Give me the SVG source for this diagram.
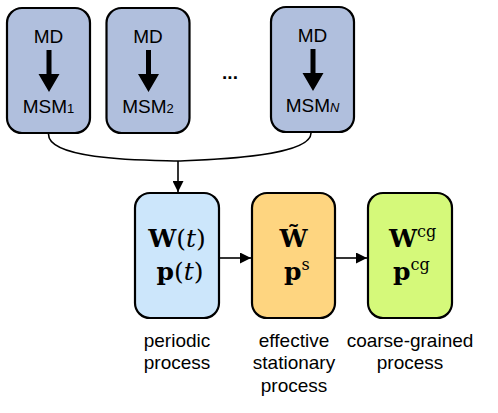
<svg xmlns="http://www.w3.org/2000/svg" width="498" height="413" viewBox="0 0 498 413">
<style>
.box{stroke:#000;stroke-width:2.2}
.top{fill:#b0bfdd}
.sans{font-family:"Liberation Sans",Arial,sans-serif;fill:#000}
.lbl{font-size:19px;text-anchor:middle}
.cap{font-family:"Liberation Sans",Arial,sans-serif;font-size:19px;text-anchor:middle;fill:#000}
.math{font-family:"DejaVu Serif","Liberation Serif",serif;font-size:25px;fill:#000}
.b{font-weight:bold}
.i{font-style:italic}
.sup{font-size:16px}
.conn{fill:none;stroke:#000;stroke-width:1.6}
</style>
<defs>
<marker id="ah2" viewBox="0 0 10 10" refX="10" refY="5" markerWidth="11" markerHeight="11" markerUnits="userSpaceOnUse" orient="auto"><path d="M0,0 L10,5 L0,10 z" fill="#000"/></marker>
</defs>
<g id="msm1">
<rect class="box top" x="7" y="8" width="83" height="125" rx="15"/>
<text class="sans lbl" x="48.5" y="43">MD</text>
<path d="M46.5,50 h5 v24 h8 l-10.5,18 l-10.5,-18 h8 z" fill="#000"/>
<text class="sans lbl" x="48.5" y="113">MSM<tspan font-size="13">1</tspan></text>
</g>
<g id="msm2">
<rect class="box top" x="106.5" y="8" width="83" height="125" rx="15"/>
<text class="sans lbl" x="148" y="43">MD</text>
<path d="M146,50 h5 v24 h8 l-10.5,18 l-10.5,-18 h8 z" fill="#000"/>
<text class="sans lbl" x="148" y="113">MSM<tspan font-size="13">2</tspan></text>
</g>
<g id="dots">
<text class="sans b" x="230" y="79" font-size="19" text-anchor="middle">...</text>
</g>
<g id="msmN">
<rect class="box top" x="271" y="7" width="83" height="125" rx="15"/>
<text class="sans lbl" x="312.5" y="42">MD</text>
<path d="M310.5,49 h5 v24 h8 l-10.5,18 l-10.5,-18 h8 z" fill="#000"/>
<text class="sans lbl" x="312.5" y="112">MSM<tspan font-size="13" font-style="italic">N</tspan></text>
</g>
<g id="periodic">
<rect class="box" fill="#cce6fb" x="135" y="193" width="84" height="125" rx="15"/>
<text class="math" x="177" y="247" text-anchor="middle"><tspan class="b">W</tspan>(<tspan class="i">t</tspan>)</text>
<text class="math" x="180" y="280" text-anchor="middle"><tspan class="b">p</tspan>(<tspan class="i">t</tspan>)</text>
<text class="cap" x="177" y="347">periodic</text>
<text class="cap" x="177" y="369">process</text>
</g>
<g id="stationary">
<rect class="box" fill="#fed580" x="252" y="193" width="83" height="125" rx="15"/>
<text class="math b" x="293.5" y="247" text-anchor="middle">W̃</text>
<text class="math" x="284" y="280"><tspan class="b">p</tspan><tspan class="sup" dy="-10">s</tspan></text>
<text class="cap" x="294" y="347">effective</text>
<text class="cap" x="294" y="369">stationary</text>
<text class="cap" x="294" y="392">process</text>
</g>
<g id="coarse">
<rect class="box" fill="#d5f97a" x="368" y="193" width="84" height="125" rx="15"/>
<text class="math" x="389" y="247"><tspan class="b">W</tspan><tspan class="sup" dy="-10">cg</tspan></text>
<text class="math" x="393" y="280"><tspan class="b">p</tspan><tspan class="sup" dy="-10">cg</tspan></text>
<text class="cap" x="410" y="347">coarse-grained</text>
<text class="cap" x="410" y="369">process</text>
</g>
<g id="connectors">
<path class="conn" d="M48.5,134 C48,162 160,160 178,161 C200,160 311,158 311,133"/>
<path class="conn" d="M178,161 V192" marker-end="url(#ah2)"/>
<path class="conn" d="M219,258 H251" marker-end="url(#ah2)"/>
<path class="conn" d="M335,258 H367" marker-end="url(#ah2)"/>
</g>
</svg>
